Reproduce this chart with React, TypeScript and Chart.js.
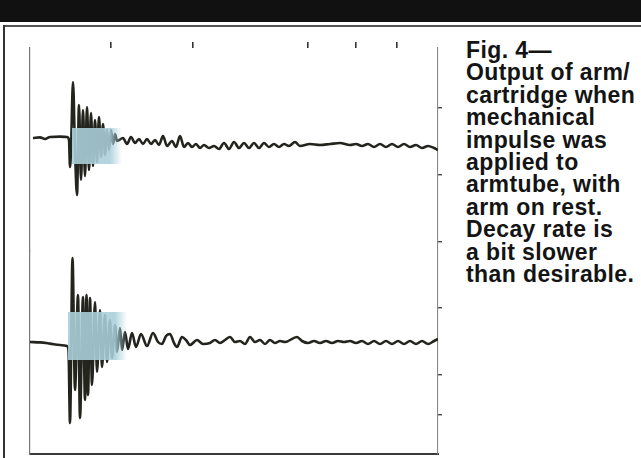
import React, { useEffect, useRef } from "react";
import { Chart, registerables } from "chart.js";

Chart.register(...registerables);

// Upper trace: arm/cartridge output (time units, signal units)
const topTime = [
  1.5, 5, 7.5, 10, 15, 18.5,
  19.5, 20, 20.5, 21.5, 22.5, 23.5, 24.5, 25.5, 26.5, 27.5,
  28.5, 29.5, 30.5, 31.5, 32.5, 33.5, 34.5, 35.5, 36.5, 37.5, 38.5, 39.5, 40.5, 41.5, 42.5, 43.5,
  46.5, 48.5, 50.5, 52.5, 54.5, 56.5, 58.5, 60.5, 62.5, 64.5, 66.5, 68.5,
  71, 73, 75, 77, 79, 81, 83, 85,
  87, 89.5, 92, 94.5, 97, 99.5, 102, 104.5, 107, 109.5, 112, 114.5, 117, 119.5, 122, 124.5, 127, 129.5,
  132.5, 135, 140, 145, 150, 155, 160,
  163, 166, 169, 172, 175, 178, 181, 184, 187, 190, 193, 196, 199, 202, 204,
];
const topSignal = [
  -0.5, -0.2, -1, 0, 0.2, 0,
  -1.5, -15, -6.5, 27.5, -6.5, -29, 16, -21.5, 13.5, -19.5,
  15, -16.5, 12, -14.5, 8.5, -12.5, 10, -10, 6.5, -9, 3.5, -6.5, 3.5, -3.5, 1.5, -2,
  -0.5, -3.5, 0, -3, -1, -3.5, -1, -3.5, -1.5, -4, 0.5, -4.5,
  -2, -5, 0.5, -5, -3, -5, -3.5, -5.5,
  -4, -5.5, -4.5, -6, -3, -6, -2.5, -5.5, -3, -5.5, -3, -5.5, -3, -5, -3.5, -5, -3.5, -4.5,
  -2.5, -4.5, -3.5, -4, -3.5, -3, -4,
  -3.5, -4.5, -3.5, -5, -3.5, -5, -3.5, -5, -3.5, -5, -4, -5.5, -4.5, -5.5, -6.5,
];

// Lower trace
const bottomTime = [
  0, 5, 10, 15, 18.5, 19.25,
  20, 21.25, 22.5, 24, 25, 26.5, 27.5, 28.25, 29, 30,
  31, 32.5, 33.5, 35, 36, 37.5, 38.5, 40, 41, 42.5,
  43.5, 45, 46, 47.5, 49, 51, 53, 55.5, 58.5, 61.5,
  64, 66, 68, 70, 72, 73.5, 76, 78, 80, 83.5,
  86.5, 90, 92.5, 95, 97.5, 100, 102.5, 105, 107.5, 110,
  112.5, 115, 117.5, 120, 122.5, 125, 127.5, 133.5, 136, 139,
  142, 145, 148, 151, 154, 157, 160, 163, 166, 169,
  172, 175, 178, 181, 184, 187, 190, 193, 196, 199,
  202, 204,
];
const bottomSignal = [
  0, -0.2, -0.8, -1.5, -2, -4,
  -40.5, 42, -24, 23.5, -38, 22.5, -29, 23.5, -26.5, 22,
  -21.5, 20, -15, 16, -12.5, 13.5, -10, 11, -8, 8.5,
  -5, 7, -4, 5, -3.5, 4.5, -2.5, 4, -2, 4.5,
  0, -1, 3, 4, -0.5, -2.5, 2.5, 1, -1.5, 1,
  -1, -0.5, 1, -0.5, 1, 2.5, 0, 0.5, -1, 2.5,
  0, 1, -1, 1, -0.5, 0.5, 0, 2.5, 0.5, -0.5,
  0.5, -0.5, 0.5, -0.5, 0.5, 0, 0.5, -0.5, 0.5, -1,
  0.5, -1, 0.5, -1, 0.5, -1, 0.5, -1, 0.5, -1,
  0.5, 1.5,
];

// Light-blue highlight bands (one per trace)
const bandAxis = ["yTop", "yBottom"];
const bandStart = [21, 19];
const bandFadeStart = [40, 42.5];
const bandEnd = [46, 48.5];
const bandHigh = [4.5, 15];
const bandLow = [-13.5, -9];

// Scope graticule marks
const topAxisTicks = [40.5, 81.5, 139, 163, 183.5];
const rightAxisTicks = [0.96, 1.95, 3.6, 5.22, 6.87, 8.52];

const captionLines = [
  "Fig. 4\u2014",
  "Output of arm/",
  "cartridge when",
  "mechanical",
  "impulse was",
  "applied to",
  "armtube, with",
  "arm on rest.",
  "Decay rate is",
  "a bit slower",
  "than desirable.",
];

const TRACE = "rgb(36,36,30)";

export default function App() {
  const ref = useRef<HTMLCanvasElement>(null);

  useEffect(() => {
    const canvas = ref.current;
    if (!canvas) return;

    const bandPlugin = {
      id: "bands",
      afterDatasetsDraw(chart: any) {
        const ctx = chart.ctx;
        const xs = chart.scales.x;
        bandAxis.forEach((axisId, i) => {
          const ys = chart.scales[axisId];
          const x0 = xs.getPixelForValue(bandStart[i]);
          const x1 = xs.getPixelForValue(bandFadeStart[i]);
          const x2 = xs.getPixelForValue(bandEnd[i]);
          const y0 = ys.getPixelForValue(bandHigh[i]);
          const y1 = ys.getPixelForValue(bandLow[i]);
          const g = ctx.createLinearGradient(x0, 0, x2, 0);
          const f = (x1 - x0) / (x2 - x0);
          g.addColorStop(0, "rgba(170,207,217,0.9)");
          g.addColorStop(f, "rgba(170,207,217,0.88)");
          g.addColorStop(1, "rgba(170,207,217,0)");
          ctx.save();
          ctx.fillStyle = g;
          ctx.fillRect(x0, y0, x2 - x0, y1 - y0);
          ctx.restore();
        });
      },
    };

    const hiddenGrid = { drawOnChartArea: false, drawTicks: false };

    const chart = new Chart(canvas, {
      type: "line",
      data: {
        datasets: [
          {
            label: "Upper trace",
            data: topTime.map((t, i) => ({ x: t, y: topSignal[i] })),
            xAxisID: "x",
            yAxisID: "yTop",
            borderColor: TRACE,
            borderWidth: 2.6,
            pointRadius: 0,
            cubicInterpolationMode: "monotone",
          },
          {
            label: "Lower trace",
            data: bottomTime.map((t, i) => ({ x: t, y: bottomSignal[i] })),
            xAxisID: "x",
            yAxisID: "yBottom",
            borderColor: TRACE,
            borderWidth: 2.6,
            pointRadius: 0,
            cubicInterpolationMode: "monotone",
          },
        ],
      },
      options: {
        responsive: false,
        animation: false,
        layout: { padding: { left: 30, right: 8, top: 16, bottom: 4 } },
        plugins: { legend: { display: false }, tooltip: { enabled: false } },
        scales: {
          x: {
            type: "linear",
            position: "bottom",
            min: 0,
            max: 204,
            ticks: { display: false },
            grid: hiddenGrid,
            border: { display: true, color: "#3a3a3a", width: 2, dash: [13, 17] },
          },
          xTop: {
            type: "linear",
            position: "top",
            min: 0,
            max: 204,
            afterBuildTicks: (axis: any) => {
              axis.ticks = topAxisTicks.map((v) => ({ value: v }));
            },
            ticks: { display: false },
            grid: { drawOnChartArea: false, drawTicks: true, tickLength: 6, color: "#333", lineWidth: 1.6 },
            border: { display: false },
          },
          yBottom: {
            type: "linear",
            position: "left",
            stack: "scope",
            stackWeight: 1,
            min: -56,
            max: 45.5,
            ticks: { display: false },
            grid: hiddenGrid,
            border: { display: true, color: "#777", width: 1.2, dash: [3, 4] },
          },
          yTop: {
            type: "linear",
            position: "left",
            stack: "scope",
            stackWeight: 1,
            min: -57,
            max: 44.5,
            ticks: { display: false },
            grid: hiddenGrid,
            border: { display: true, color: "#777", width: 1.2, dash: [3, 4] },
          },
          yRight: {
            type: "linear",
            position: "right",
            min: 0,
            max: 10,
            afterBuildTicks: (axis: any) => {
              axis.ticks = rightAxisTicks.map((v) => ({ value: v }));
            },
            ticks: { display: false },
            grid: { drawOnChartArea: false, drawTicks: true, tickLength: 4, color: "#444", lineWidth: 1.4 },
            border: { display: true, color: "#888", width: 1.1, dash: [7, 3] },
          },
        },
      },
      plugins: [bandPlugin],
    } as any);

    return () => chart.destroy();
  }, []);

  return (
    <div
      style={{
        position: "absolute",
        left: 0,
        top: 0,
        width: 641,
        height: 458,
        background: "#fff",
        overflow: "hidden",
      }}
    >
      <div style={{ position: "absolute", left: 0, top: 0, width: 641, height: 22, background: "#111" }} />
      <div style={{ position: "absolute", left: 3, top: 25, width: 638, height: 2, background: "#555" }} />
      <div style={{ position: "absolute", left: 3, top: 25, width: 2, height: 433, background: "#333" }} />
      <canvas
        ref={ref}
        width={450}
        height={432}
        style={{ position: "absolute", left: 0, top: 26, width: 450, height: 432 }}
      />
      <div
        style={{
          position: "absolute",
          left: 466,
          top: 39,
          fontFamily: "'Liberation Sans', Arial, Helvetica, sans-serif",
          fontWeight: 700,
          fontSize: 23,
          lineHeight: "22.4px",
          letterSpacing: "0.4px",
          color: "#141414",
          whiteSpace: "nowrap",
        }}
      >
        {captionLines.map((line, i) => (
          <div key={i}>{line}</div>
        ))}
      </div>
    </div>
  );
}
